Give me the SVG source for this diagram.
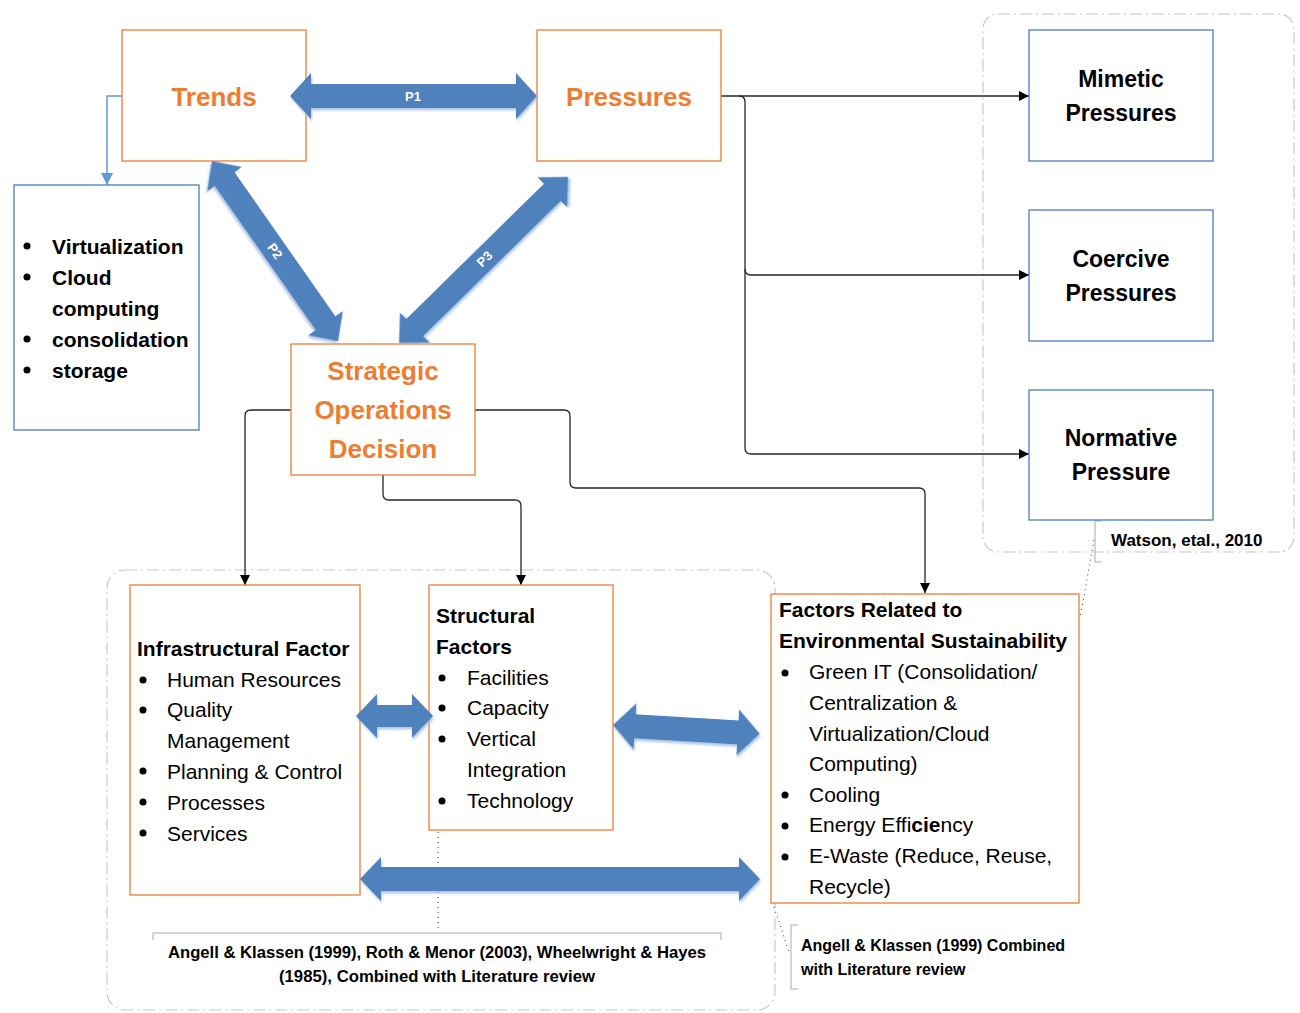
<svg xmlns="http://www.w3.org/2000/svg" width="1300" height="1013" viewBox="0 0 1300 1013">
<defs>
<style>
.bg{fill:#fff}
.obox{fill:#fff;stroke:#ED7D31;stroke-width:1.3}
.bbox{fill:#fff;stroke:#4A7EBB;stroke-width:1.3}
.grp{fill:none;stroke:#C8C8C8;stroke-width:1.2;stroke-dasharray:12 4 2 4}
.big{font-family:"Liberation Sans",Arial,sans-serif;font-weight:bold;font-size:26px;fill:#ED7D31;text-anchor:middle}
.rt{font-family:"Liberation Sans",Arial,sans-serif;font-weight:bold;font-size:23px;fill:#000;text-anchor:middle}
.hd{font-family:"Liberation Sans",Arial,sans-serif;font-weight:bold;font-size:21px;fill:#000}
.it{font-family:"Liberation Sans",Arial,sans-serif;font-size:21px;fill:#000}
.cit{font-family:"Liberation Sans",Arial,sans-serif;font-weight:bold;font-size:16px;fill:#000}
.pl{font-family:"Liberation Sans",Arial,sans-serif;font-weight:bold;font-size:13px;fill:#fff;text-anchor:middle;dominant-baseline:central}
.blk{fill:#4F81BD;filter:url(#sh)}
.con{fill:none;stroke:#262626;stroke-width:1.3}
.bcon{fill:none;stroke:#5B9BD5;stroke-width:1.5}
.brk{fill:none;stroke:#BFC7D5;stroke-width:1.5}
.dot{fill:none;stroke:#333;stroke-width:1;stroke-dasharray:1 4}
</style>
<filter id="sh" x="-10%" y="-10%" width="130%" height="140%">
<feDropShadow dx="1" dy="2.5" stdDeviation="1" flood-color="#9DB9DE" flood-opacity="0.8"/>
</filter>
<marker id="ah" markerUnits="userSpaceOnUse" markerWidth="10" markerHeight="10" refX="10" refY="5" orient="auto">
<path d="M0,0 L10,5 L0,10 z" fill="#000"/>
</marker>
<marker id="ahb" markerUnits="userSpaceOnUse" markerWidth="12" markerHeight="12" refX="12" refY="6" orient="auto">
<path d="M0,0 L12,6 L0,12 z" fill="#5B9BD5"/>
</marker>
</defs>
<rect class="bg" x="0" y="0" width="1300" height="1013"/>

<!-- group frames -->
<g id="groups">
<rect class="grp" x="983" y="14" width="311" height="538" rx="15"/>
<rect class="grp" x="107" y="570" width="668" height="440" rx="18"/>
</g>

<!-- connectors -->
<g id="connectors">
<path class="bcon" d="M122,96 H107 V185" marker-end="url(#ahb)"/>
<path class="con" d="M721,96 H1029" marker-end="url(#ah)"/>
<path class="con" d="M739,96 Q745,96 745,102 V448 Q745,454 751,454 H1029" marker-end="url(#ah)"/>
<path class="con" d="M745,269 Q745,275 751,275 H1029" marker-end="url(#ah)"/>
<path class="con" d="M291,410 H251 Q245,410 245,416 V585" marker-end="url(#ah)"/>
<path class="con" d="M383,475 V494 Q383,500 389,500 H515 Q521,500 521,506 V585" marker-end="url(#ah)"/>
<path class="con" d="M475,410 H564 Q570,410 570,416 V482 Q570,488 576,488 H919 Q925,488 925,494 V593" marker-end="url(#ah)"/>
<!-- citation pointers -->
<path class="dot" d="M438,812 V930"/>
<path class="dot" d="M1094,540 L1080,618"/>
<path class="dot" d="M774,907 L789,952"/>
<path class="brk" d="M153,940 V933 H721 V940"/>
<path class="brk" d="M1101,521 H1095 V562 H1101"/>
<path class="brk" d="M798,925 H791 V989 H798"/>
</g>

<!-- nodes -->
<g id="trends">
<rect class="obox" x="122" y="30" width="184" height="131"/>
<text class="big" x="214" y="106">Trends</text>
</g>
<g id="pressures">
<rect class="obox" x="537" y="30" width="184" height="131"/>
<text class="big" x="629" y="106">Pressures</text>
</g>
<g id="sod">
<rect class="obox" x="291" y="344" width="184" height="131"/>
<text class="big" x="383" y="380">Strategic</text>
<text class="big" x="383" y="419">Operations</text>
<text class="big" x="383" y="458">Decision</text>
</g>
<g id="techlist">
<rect class="bbox" x="14" y="185" width="185" height="245"/>
<circle cx="27" cy="246" r="3.5"/><circle cx="27" cy="277" r="3.5"/><circle cx="27" cy="339" r="3.5"/><circle cx="27" cy="370" r="3.5"/>
<text class="hd" x="52" y="254">Virtualization</text>
<text class="hd" x="52" y="285">Cloud</text>
<text class="hd" x="52" y="316">computing</text>
<text class="hd" x="52" y="347">consolidation</text>
<text class="hd" x="52" y="378">storage</text>
</g>
<g id="mimetic">
<rect class="bbox" x="1029" y="30" width="184" height="131"/>
<text class="rt" x="1121" y="87">Mimetic</text>
<text class="rt" x="1121" y="121">Pressures</text>
</g>
<g id="coercive">
<rect class="bbox" x="1029" y="210" width="184" height="131"/>
<text class="rt" x="1121" y="267">Coercive</text>
<text class="rt" x="1121" y="301">Pressures</text>
</g>
<g id="normative">
<rect class="bbox" x="1029" y="390" width="184" height="130"/>
<text class="rt" x="1121" y="446">Normative</text>
<text class="rt" x="1121" y="480">Pressure</text>
</g>
<g id="infra">
<rect class="obox" x="130" y="585" width="230" height="310"/>
<text class="hd" x="137" y="656">Infrastructural Factor</text>
<circle cx="143" cy="680" r="3.5"/><circle cx="143" cy="710" r="3.5"/><circle cx="143" cy="771" r="3.5"/><circle cx="143" cy="802" r="3.5"/><circle cx="143" cy="833" r="3.5"/>
<text class="it" x="167" y="687">Human Resources</text>
<text class="it" x="167" y="717">Quality</text>
<text class="it" x="167" y="748">Management</text>
<text class="it" x="167" y="779">Planning &amp; Control</text>
<text class="it" x="167" y="810">Processes</text>
<text class="it" x="167" y="841">Services</text>
</g>
<g id="structural">
<rect class="obox" x="429" y="585" width="184" height="245"/>
<text class="hd" x="436" y="623">Structural</text>
<text class="hd" x="436" y="654">Factors</text>
<circle cx="442" cy="678" r="3.5"/><circle cx="442" cy="708" r="3.5"/><circle cx="442" cy="739" r="3.5"/><circle cx="442" cy="801" r="3.5"/>
<text class="it" x="467" y="685">Facilities</text>
<text class="it" x="467" y="715">Capacity</text>
<text class="it" x="467" y="746">Vertical</text>
<text class="it" x="467" y="777">Integration</text>
<text class="it" x="467" y="808">Technology</text>
</g>
<g id="environment">
<rect class="obox" x="771" y="594" width="308" height="309"/>
<text class="hd" x="779" y="617">Factors Related to</text>
<text class="hd" x="779" y="648">Environmental Sustainability</text>
<circle cx="785" cy="673" r="3.5"/><circle cx="785" cy="795" r="3.5"/><circle cx="785" cy="826" r="3.5"/><circle cx="785" cy="857" r="3.5"/>
<text class="it" x="809" y="679">Green IT (Consolidation/</text>
<text class="it" x="809" y="710">Centralization &amp;</text>
<text class="it" x="809" y="741">Virtualization/Cloud</text>
<text class="it" x="809" y="771">Computing)</text>
<text class="it" x="809" y="802">Cooling</text>
<text class="it" x="809" y="832">Energy Effi<tspan font-weight="bold">cie</tspan>ncy</text>
<text class="it" x="809" y="863">E-Waste (Reduce, Reuse,</text>
<text class="it" x="809" y="894">Recycle)</text>
</g>

<!-- block double arrows (drawn over boxes) -->
<g id="block-arrows">
<g id="p1">
<path class="blk" d="M290,96 L311,73 L311,84 L516,84 L516,73 L537,96 L516,119 L516,108 L311,108 L311,119 Z"/>
<text class="pl" x="413" y="96">P1</text>
</g>
<g id="p2" transform="translate(212,161) rotate(55)">
<path class="blk" d="M0,0 L22,-21 L22,-12 L198,-12 L198,-21 L220,0 L198,21 L198,12 L22,12 L22,21 Z"/>
<text class="pl" x="110" y="0">P2</text>
</g>
<g id="p3" transform="translate(399,343) rotate(-44.5)">
<path class="blk" d="M0,0 L22,-21 L22,-12 L215,-12 L215,-21 L237,0 L215,21 L215,12 L22,12 L22,21 Z"/>
<text class="pl" x="120" y="0">P3</text>
</g>
<path class="blk" d="M356,716 L377,694 L377,705 L412,705 L412,694 L433,716 L412,738 L412,727 L377,727 L377,738 Z"/>
<g transform="translate(613,725) rotate(3.4)">
<path class="blk" d="M0,0 L22,-23 L22,-12 L125,-12 L125,-23 L147,0 L125,23 L125,12 L22,12 L22,23 Z"/>
</g>
<path class="blk" d="M360,879 L381,857 L381,867 L739,867 L739,857 L760,879 L739,901 L739,891 L381,891 L381,901 Z"/>
</g>

<!-- citations -->
<g id="citations">
<text class="cit" x="1111" y="546" style="font-size:17px">Watson, etal., 2010</text>
<text class="cit" x="437" y="958" text-anchor="middle" textLength="538" lengthAdjust="spacingAndGlyphs">Angell &amp; Klassen (1999), Roth &amp; Menor (2003), Wheelwright &amp; Hayes</text>
<text class="cit" x="437" y="982" text-anchor="middle" textLength="316" lengthAdjust="spacingAndGlyphs">(1985), Combined with Literature review</text>
<text class="cit" x="801" y="951">Angell &amp; Klassen (1999) Combined</text>
<text class="cit" x="801" y="975">with Literature review</text>
</g>
</svg>
